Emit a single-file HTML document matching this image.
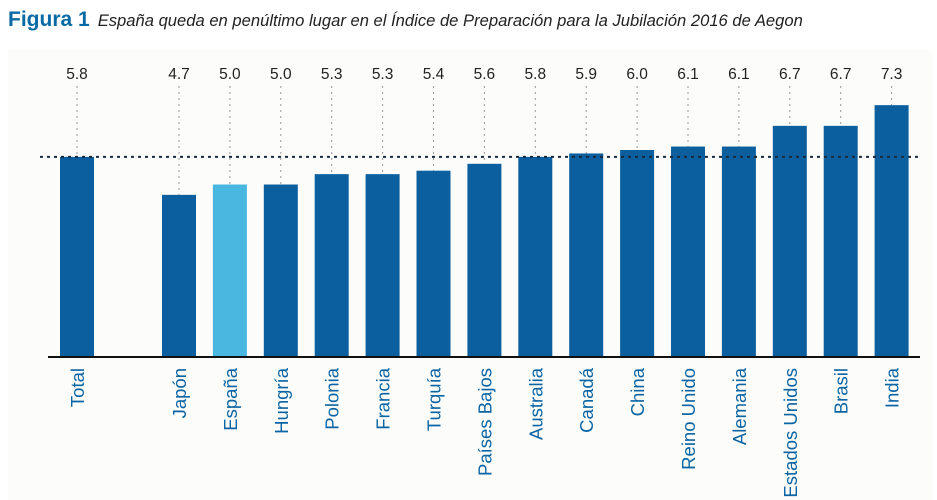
<!DOCTYPE html>
<html><head><meta charset="utf-8"><style>
html,body{margin:0;padding:0;background:#fff;width:937px;height:500px;overflow:hidden;font-family:"Liberation Sans",sans-serif}
#title{position:absolute;left:8px;top:8px;white-space:nowrap}
#fig{color:#0a6aa6;font-weight:bold;font-size:21px}
#sub{color:#222;font-style:italic;font-size:16.6px;margin-left:8px}
svg{position:absolute;left:0;top:0}
</style></head><body>
<div id="title"><span id="fig">Figura 1</span><span id="sub">España queda en penúltimo lugar en el Índice de Preparación para la Jubilación 2016 de Aegon</span></div>
<svg id="chart" width="937" height="500"></svg>
<script>
const categories=["Total","Japón","España","Hungría","Polonia","Francia","Turquía","Países Bajos","Australia","Canadá","China","Reino Unido","Alemania","Estados Unidos","Brasil","India"];
const values=[5.8,4.7,5.0,5.0,5.3,5.3,5.4,5.6,5.8,5.9,6.0,6.1,6.1,6.7,6.7,7.3];
const labels=["5.8","4.7","5.0","5.0","5.3","5.3","5.4","5.6","5.8","5.9","6.0","6.1","6.1","6.7","6.7","7.3"];
const highlight="España";
const reference=5.8;
const NS="http://www.w3.org/2000/svg";
const svg=document.getElementById('chart');
const base=357, scale=34.5;
function y(v){return base-v*scale;}
function xc(i){return i===0?77:179+(i-1)*50.9;}
function mk(t,a){const e=document.createElementNS(NS,t);for(const k in a)e.setAttribute(k,a[k]);svg.appendChild(e);return e;}
const bg=mk('rect',{x:8,y:50,width:925,height:450,fill:'#fcfcfa'});


categories.forEach((c,i)=>{
  const cx=xc(i), top=y(values[i]);
  const g=mk('line',{x1:cx,x2:cx,y1:86,y2:top,stroke:'#999','stroke-width':1,'stroke-dasharray':'2,4'});
  
  
  const r=mk('rect',{x:cx-17,y:top,width:34,height:base-top,fill:c===highlight?'#4ab7e1':'#0b5f9f'});
  
  
  const t=mk('text',{x:cx,y:79,'text-anchor':'middle','font-size':15.5,fill:'#222','font-family':'Liberation Sans, sans-serif'});
  t.textContent=labels[i];
  
  
  const l=mk('text',{x:0,y:0,'text-anchor':'end','font-size':18.5,fill:'#0a64a3','font-family':'Liberation Sans, sans-serif',transform:`translate(${cx+7},368) rotate(-90)`});
  l.textContent=c;
  
  
});
const ref=mk('line',{x1:40,x2:920,y1:y(reference),y2:y(reference),stroke:'#1a2a3a','stroke-width':2,'stroke-dasharray':'3,4'});


const ax=mk('line',{x1:48,x2:920,y1:base,y2:base,stroke:'#111','stroke-width':2});


</script>
</body></html>
